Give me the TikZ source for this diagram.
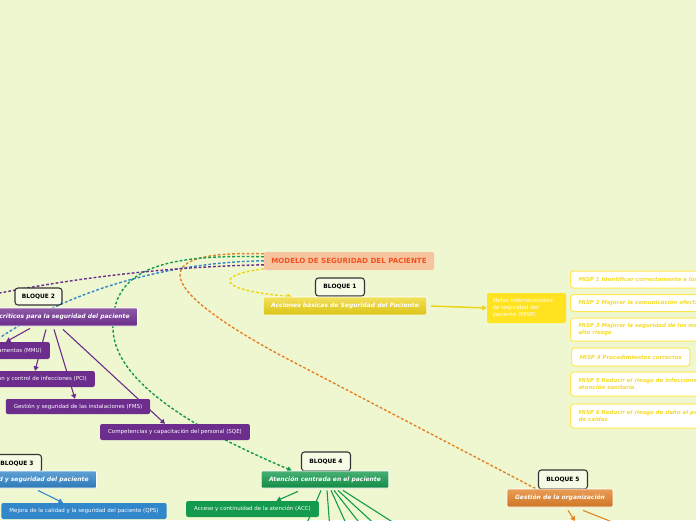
\documentclass[tikz,border=0pt]{standalone}
\usepackage{fontspec}
\setmainfont{DejaVu Sans}
\usetikzlibrary{positioning,arrows.meta}

\definecolor{fondo}{RGB}{238,247,208}
\definecolor{raizfill}{RGB}{247,196,160}
\definecolor{raiztext}{RGB}{242,82,32}
\definecolor{amarillo}{RGB}{238,212,22}
\definecolor{amarilloclaro}{RGB}{255,226,32}
\definecolor{misptext}{RGB}{246,220,44}
\definecolor{morado}{RGB}{108,45,140}
\definecolor{azul}{RGB}{50,134,202}
\definecolor{verde}{RGB}{20,154,76}
\definecolor{naranja}{RGB}{228,130,40}

\pgfdeclarelayer{conectores}
\pgfsetlayers{conectores,main}

\tikzset{
  bloque/.style={draw=black!80, line width=1.1pt, rounded corners=3pt, fill=white!45!fondo,
    font=\bfseries\fontsize{5.9}{7}\selectfont, minimum width=49pt, minimum height=18pt, inner sep=0pt},
  rama/.style={draw=white, line width=0.8pt, rounded corners=1pt, text=white,
    font=\bfseries\itshape\fontsize{6}{7}\selectfont, minimum height=18pt, inner xsep=8pt, inner ysep=0pt},
  hoja/.style={rounded corners=2pt, text=white, font=\fontsize{5.5}{6.5}\selectfont,
    minimum height=16pt, inner xsep=8pt, inner ysep=0pt},
  misp/.style={draw=amarilloclaro!80!white, line width=1pt, fill=white, rounded corners=3pt, text=misptext,
    font=\bfseries\itshape\fontsize{5.5}{6.6}\selectfont, align=left, inner xsep=8pt, inner ysep=0pt},
  punteada/.style={line width=1.4pt, dash pattern=on 2.8pt off 2pt},
  flecha/.style={line width=1.1pt, -{Triangle[length=4.5pt,width=5pt]}},
}

\begin{document}
\begin{tikzpicture}[x=1pt,y=-1pt]

\useasboundingbox (0,0) rectangle (696,520);

% Raiz
\node[fill=raizfill, rounded corners=2pt, text=raiztext, font=\bfseries\fontsize{7.1}{8}\selectfont,
  minimum width=170pt, minimum height=18pt, inner sep=0pt] (raiz) at (349,261) {MODELO DE SEGURIDAD DEL PACIENTE};

% Bloque 1
\node[bloque] (b1) at (340,287) {BLOQUE 1};
\node[rama, top color=amarillo!70!white, bottom color=amarillo!92!black, minimum width=162pt] (acciones) at (345,306)
  {Acciones básicas de Seguridad del Paciente};
\node[hoja, fill=amarilloclaro, minimum width=79pt, minimum height=30pt, text width=68pt, align=left,
  font=\fontsize{5.5}{7}\selectfont, inner xsep=5.5pt] (metas) at (526.5,308)
  {Metas internacionales\\de seguridad del\\paciente (MISP)};

% Metas internacionales
\node[misp, anchor=west, minimum height=17pt] (misp1) at (570,279.5) {MISP 1 Identificar correctamente a los pacientes};
\node[misp, anchor=west, minimum height=17pt] (misp2) at (570,303) {MISP 2 Mejorar la comunicación efectiva};
\node[misp, anchor=west, minimum height=23pt] (misp3) at (570,329.5) {MISP 3 Mejorar la seguridad de los medicamentos de\\alto riesgo};
\node[misp, anchor=west, minimum height=18pt] (misp4) at (571,357) {MISP 4 Procedimientos correctos};
\node[misp, anchor=west, minimum height=24pt] (misp5) at (570,384) {MISP 5 Reducir el riesgo de infecciones asociadas a la\\atención sanitaria};
\node[misp, anchor=west, minimum height=24pt] (misp6) at (570,416) {MISP 6 Reducir el riesgo de daño al paciente por causa\\de caídas};

% Bloque 2
\node[bloque, minimum width=47pt, minimum height=17pt] (b2) at (38.5,296.5) {BLOQUE 2};
\node[rama, top color=morado!78!white, bottom color=morado, anchor=east] (sistemas) at (138,317)
  {Sistemas críticos para la seguridad del paciente};
\node[hoja, fill=morado, anchor=east, minimum height=17pt] (mmu) at (50,350.5) {Manejo y uso de medicamentos (MMU)};
\node[hoja, fill=morado, anchor=east] (pci) at (95,379) {Prevención y control de infecciones (PCI)};
\node[hoja, fill=morado, minimum width=144pt, minimum height=15pt] (fms) at (78,406.5) {Gestión y seguridad de las instalaciones (FMS)};
\node[hoja, fill=morado, minimum width=148pt] (sqe) at (175,432) {Competencias y capacitación del personal (SQE)};

% Bloque 3
\node[bloque] (b3) at (17,463.5) {BLOQUE 3};
\node[rama, top color=azul!78!white, bottom color=azul!90!black, anchor=east, minimum height=17pt] (mejora) at (97,479.5)
  {Mejora de la calidad y seguridad del paciente};
\node[hoja, fill=azul, minimum width=164pt] (qps) at (84,511) {Mejora de la calidad y la seguridad del paciente (QPS)};

% Bloque 4
\node[bloque, minimum height=19pt] (b4) at (326,461.5) {BLOQUE 4};
\node[rama, top color=verde!78!white, bottom color=verde!90!black, minimum width=126pt, minimum height=17pt] (atencion) at (325,479.5)
  {Atención centrada en el paciente};
\node[hoja, fill=verde, minimum width=131pt] (acc) at (252.5,509) {Acceso y continuidad de la atención (ACC)};

% Bloque 5
\node[bloque, minimum height=19pt] (b5) at (563,479.5) {BLOQUE 5};
\node[rama, top color=naranja!78!white, bottom color=naranja!90!black, minimum width=104pt] (gestion) at (560,498)
  {Gestión de la organización};

% Free ends
\coordinate (finazul) at (-20,352);
\coordinate (finmorado) at (-20,297);
\coordinate (fingestion1) at (575,521);
\coordinate (fingestion2) at (620,525);

\begin{pgfonlayer}{conectores}
\fill[fondo] (0,0) rectangle (696,520);

% Dashed links from the root
\draw[punteada, naranja] ([yshift=-2pt]raiz.north west) .. controls (140,250) and (160,290) .. (280,355)
  -- ([xshift=29pt]gestion.north west);
\draw[punteada, verde, -{Triangle[length=4.5pt,width=5pt]}] ([yshift=-5pt]raiz.north west)
  .. controls (160,254) and (110,270) .. (113,330) .. controls (116,390) and (220,440) .. ([xshift=31pt]atencion.north west);
\draw[punteada, azul] ([yshift=-9pt]raiz.north west) .. controls (170,262) and (60,290) .. (finazul);
\draw[punteada, morado] ([yshift=-13pt]raiz.north west) .. controls (200,266) and (100,272) .. (finmorado);
\draw[punteada, amarillo, -{Triangle[length=4.5pt,width=5pt]}] ([yshift=-17pt]raiz.north west)
  .. controls (215,275) and (215,290) .. ([xshift=29pt]acciones.north west);

% Bloque 1
\draw[flecha, amarillo, line width=1.5pt] ([xshift=4pt]acciones.east) -- (metas.west);

% Bloque 2
\draw[flecha, morado] ([xshift=-108pt,yshift=-2pt]sistemas.south east) -- ([xshift=-44pt]mmu.north east);
\draw[flecha, morado] ([xshift=-92pt,yshift=-3pt]sistemas.south east) -- ([xshift=-60pt]pci.north east);
\draw[flecha, morado] ([xshift=-84pt,yshift=-3pt]sistemas.south east) -- ([xshift=-3pt]fms.north);
\draw[flecha, morado] ([xshift=-75pt,yshift=-3pt]sistemas.south east) -- ([xshift=-10pt]sqe.north);

% Bloque 3
\draw[flecha, azul] ([xshift=-59pt,yshift=-2pt]mejora.south east) -- ([xshift=-21pt]qps.north);

% Bloque 4
\draw[flecha, verde] ([xshift=-27pt,yshift=-3pt]atencion.south) -- ([xshift=24pt]acc.north);
\foreach \dx/\ex [count=\i] in {-4/304, 2/330, 6/349, 9/365, 13/381, 18/405}
{
  \coordinate (finverde\i) at (\ex,530);
  \draw[verde, line width=1.1pt] ([xshift=\dx pt,yshift=-2pt]atencion.south) -- (finverde\i);
}

% Bloque 5
\draw[flecha, naranja] ([xshift=8pt,yshift=-3pt]gestion.south) -- (fingestion1);
\draw[naranja, line width=1.1pt] ([xshift=23pt,yshift=-3pt]gestion.south) -- (fingestion2);
\end{pgfonlayer}

\end{tikzpicture}
\end{document}
